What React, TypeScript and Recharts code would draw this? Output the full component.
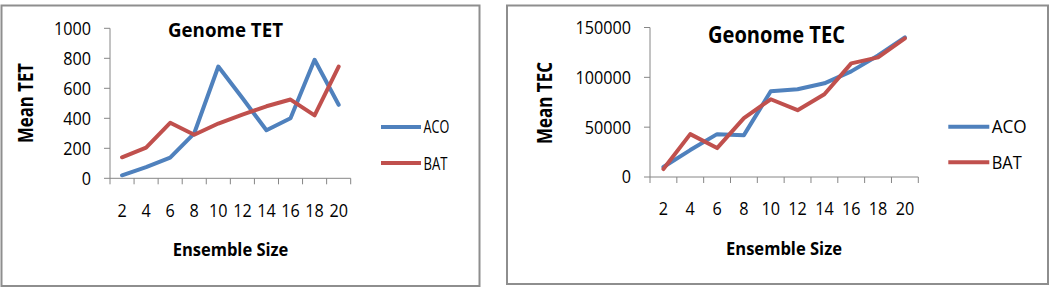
import React from 'react';
import { LineChart, Line, XAxis, YAxis } from 'recharts';

// ---------- data ----------
const sizes = ['2', '4', '6', '8', '10', '12', '14', '16', '18', '20'];
const seriesNames = ['ACO', 'BAT'];
const tetAco = [20, 75, 138, 300, 745, 535, 320, 400, 790, 490];
const tetBat = [140, 205, 370, 290, 365, 425, 480, 525, 420, 745];
const tecAco = [10000, 27000, 43000, 42000, 86000, 88000, 94000, 106000, 122000, 140000];
const tecBat = [8000, 43000, 29000, 59000, 78000, 67000, 83000, 114000, 120000, 139000];
const tetTicks = [0, 200, 400, 600, 800, 1000];
const tecTicks = [0, 50000, 100000, 150000];

const tetData = sizes.map((s, i) => ({ size: s, ACO: tetAco[i], BAT: tetBat[i] }));
const tecData = sizes.map((s, i) => ({ size: s, ACO: tecAco[i], BAT: tecBat[i] }));

// ---------- styles ----------
const FONT = '"Open Sans", sans-serif';
const AXIS = '#868686';
const FRAME = '#8e8e8e';
const COLORS = ['#4F81BD', '#C0504D'];
const TICK_FS = 18;
const TICK_SX = 0.9;

const Txt = ({ x, y, anchor = 'middle', size, bold = false, len, rotate = 0, children }: any) => (
  <text
    transform={`translate(${x},${y}) rotate(${rotate})`}
    textAnchor={anchor}
    fontSize={size}
    fontFamily={FONT}
    fontWeight={bold ? 700 : 400}
    fill="#000"
    textLength={len}
    lengthAdjust="spacingAndGlyphs"
  >
    {children}
  </text>
);

const makeXTick = (half: number, n: number) => (props: any) => {
  const { x, y, payload, index } = props;
  return (
    <g>
      <line x1={x - half} x2={x - half} y1={y} y2={y + 6} stroke={AXIS} strokeWidth={1} />
      {index === n - 1 && <line x1={x + half} x2={x + half} y1={y} y2={y + 6} stroke={AXIS} strokeWidth={1} />}
      <text
        transform={`translate(${x},${y + 32 + TICK_FS * 0.357}) scale(${TICK_SX},1)`}
        textAnchor="middle"
        fontSize={TICK_FS}
        fontFamily={FONT}
        fill="#000"
      >
        {payload.value}
      </text>
    </g>
  );
};

const YTick = (props: any) => {
  const { x, y, payload } = props;
  return (
    <text
      transform={`translate(${x},${y + TICK_FS * 0.357}) scale(${TICK_SX},1)`}
      textAnchor="end"
      fontSize={TICK_FS}
      fontFamily={FONT}
      fill="#000"
    >
      {payload.value}
    </text>
  );
};

type PanelProps = {
  data: any[];
  left: number;
  width: number;
  plotLeft: number;
  plotRight: number;
  plotTop: number;
  plotBottom: number;
  domainMax: number;
  ticks: number[];
};

const Panel = ({ data, left, width, plotLeft, plotRight, plotTop, plotBottom, domainMax, ticks }: PanelProps) => {
  const H = 292;
  const xAxisH = 40;
  const half = (plotRight - plotLeft) / sizes.length / 2;
  return (
    <div style={{ position: 'absolute', left, top: 0 }}>
      <LineChart
        width={width}
        height={H}
        data={data}
        margin={{ top: plotTop, right: width - plotRight, bottom: H - plotBottom - xAxisH, left: 0 }}
      >
        <XAxis
          dataKey="size"
          scale="band"
          interval={0}
          height={xAxisH}
          tickSize={0}
          tickMargin={0}
          tickLine={false}
          axisLine={{ stroke: AXIS, strokeWidth: 1 }}
          tick={makeXTick(half, sizes.length)}
        />
        <YAxis
          width={plotLeft}
          domain={[0, domainMax]}
          ticks={ticks}
          interval={0}
          tickSize={6}
          tickMargin={13}
          tickLine={{ stroke: AXIS, strokeWidth: 1 }}
          axisLine={{ stroke: AXIS, strokeWidth: 1 }}
          tick={<YTick />}
        />
        {seriesNames.map((name, i) => (
          <Line
            key={name}
            dataKey={name}
            stroke={COLORS[i]}
            strokeWidth={4}
            strokeLinejoin="round"
            strokeLinecap="round"
            dot={false}
            activeDot={false}
            isAnimationActive={false}
          />
        ))}
      </LineChart>
    </div>
  );
};

export default function App() {
  return (
    <div style={{ position: 'absolute', left: 0, top: 0, width: 1052, height: 292, background: '#fff' }}>
      <Panel
        data={tetData}
        left={0}
        width={480}
        plotLeft={110}
        plotRight={350.7}
        plotTop={28.3}
        plotBottom={178.3}
        domainMax={1000}
        ticks={tetTicks}
      />
      <Panel
        data={tecData}
        left={500}
        width={552}
        plotLeft={150}
        plotRight={418.3}
        plotTop={27.5}
        plotBottom={177}
        domainMax={150000}
        ticks={tecTicks}
      />
      <svg
        width={1052}
        height={292}
        style={{ position: 'absolute', left: 0, top: 0, pointerEvents: 'none' }}
      >
        {/* frames */}
        <rect x={1.5} y={5.5} width={478} height={280.5} fill="none" stroke={FRAME} strokeWidth={2} />
        <rect x={507} y={5.5} width={541} height={278.5} fill="none" stroke={FRAME} strokeWidth={2} />

        {/* left panel texts */}
        <Txt x={225.5} y={29.7 + 7} size={19.6} bold len={115}>Genome TET</Txt>
        <Txt x={230.5} y={249 + 6.7} size={18.6} bold len={115.7}>Ensemble Size</Txt>
        <Txt x={25 + 7.5} y={103} size={21} bold len={80} rotate={-90}>Mean TET</Txt>
        {seriesNames.map((n, i) => (
          <g key={n}>
            <line x1={381} x2={421} y1={127 + i * 36} y2={127 + i * 36} stroke={COLORS[i]} strokeWidth={4} />
            <Txt x={423.5} y={126.7 + i * 36.6 + 6.7} anchor="start" size={18.6} len={i === 0 ? 25.7 : 24}>{n}</Txt>
          </g>
        ))}

        {/* right panel texts */}
        <Txt x={776.5} y={35.3 + 8} size={22.4} bold len={137}>Geonome TEC</Txt>
        <Txt x={784} y={248.5 + 6.7} size={18.6} bold len={116}>Ensemble Size</Txt>
        <Txt x={544 + 7.5} y={103} size={21} bold len={82} rotate={-90}>Mean TEC</Txt>
        {seriesNames.map((n, i) => (
          <g key={n}>
            <line x1={948.3} x2={989.3} y1={126.7 + i * 35.6} y2={126.7 + i * 35.6} stroke={COLORS[i]} strokeWidth={4} />
            <Txt x={991.7} y={126 + i * 36.7 + 6.7} anchor="start" size={18.6} len={i === 0 ? 35 : 30}>{n}</Txt>
          </g>
        ))}
      </svg>
    </div>
  );
}
